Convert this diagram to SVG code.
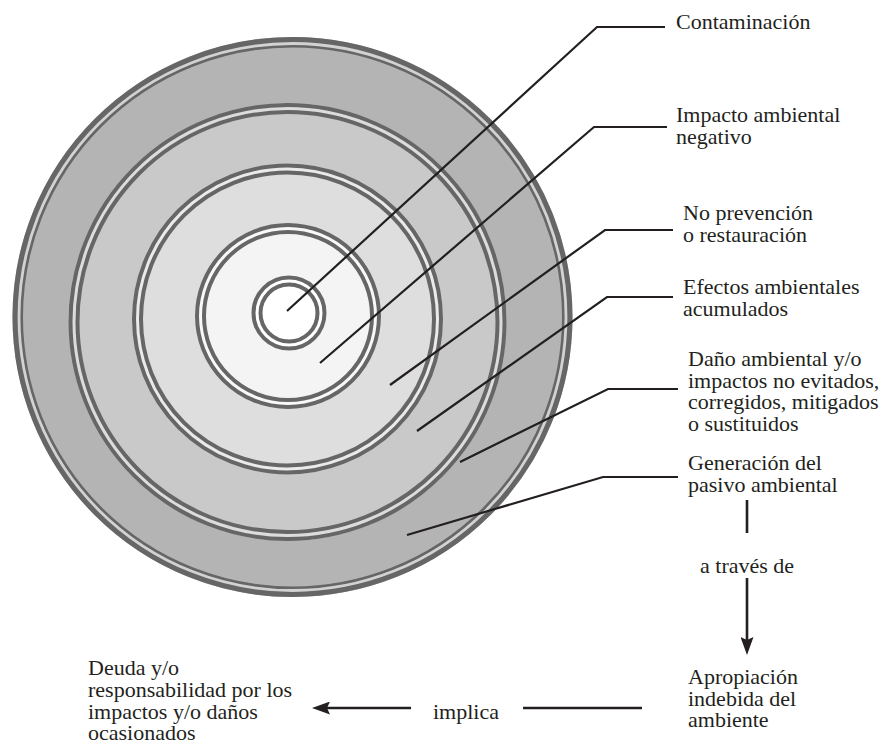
<svg xmlns="http://www.w3.org/2000/svg" width="882" height="744" viewBox="0 0 882 744">
<style>
.t{font-family:"Liberation Serif","Times New Roman",serif;font-size:22px;fill:#231f20}
.dk{fill:none;stroke:#666666}
.lt{fill:none}
.ld{fill:none;stroke:#231f20;stroke-width:2.2;stroke-linejoin:miter}
.ar{fill:none;stroke:#231f20;stroke-width:2.6}
</style>
<defs>
<marker id="ah" viewBox="0 0 18 13" refX="8" refY="6.5" markerWidth="18" markerHeight="13" markerUnits="userSpaceOnUse" orient="auto">
<path d="M0,0 L18,6.5 L0,13 L3,6.5 z" fill="#231f20"/>
</marker>
</defs>
<g id="rings">
<circle cx="292.5" cy="317" r="280" fill="#b4b4b4"/>
<circle cx="287.5" cy="322" r="219" fill="#c9c9c9"/>
<circle cx="287.5" cy="319" r="155.5" fill="#dedede"/>
<circle cx="288" cy="316" r="93" fill="#f4f4f4"/>
<circle cx="289" cy="313" r="37.5" fill="#ffffff"/>
<circle class="dk" cx="292.5" cy="317" r="274.75" stroke-width="10.5"/>
<circle class="lt" cx="292.5" cy="317" r="273.5" stroke="#d2d2d2" stroke-width="2.8"/>
<circle class="dk" cx="287.5" cy="322" r="213.5" stroke-width="11"/>
<circle class="lt" cx="287.5" cy="322" r="213.5" stroke="#dcdcdc" stroke-width="3"/>
<circle class="dk" cx="287.5" cy="319" r="150" stroke-width="11"/>
<circle class="lt" cx="287.5" cy="319" r="150" stroke="#eaeaea" stroke-width="3"/>
<circle class="dk" cx="288" cy="316" r="87.5" stroke-width="11"/>
<circle class="lt" cx="288" cy="316" r="87.5" stroke="#f8f8f8" stroke-width="3"/>
<circle class="dk" cx="289" cy="313" r="32" stroke-width="11"/>
<circle class="lt" cx="289" cy="313" r="32" stroke="#ffffff" stroke-width="3"/>
</g>
<g id="connectors">
<polyline class="ld" points="287,311 597,27 665,27"/>
<polyline class="ld" points="320,363 594,127 667,127"/>
<polyline class="ld" points="390,385 605,230 673,230"/>
<polyline class="ld" points="417,431 607,297 673,297"/>
<polyline class="ld" points="460,462 608,389 678,389"/>
<polyline class="ld" points="407,535 603,477 678,477"/>
<line class="ar" x1="747" y1="500" x2="747" y2="533"/>
<line class="ar" x1="747" y1="578" x2="747" y2="645" marker-end="url(#ah)"/>
<line class="ar" x1="642" y1="708" x2="523" y2="708"/>
<line class="ar" x1="411" y1="708" x2="322" y2="708" marker-end="url(#ah)"/>
</g>
<g id="n-contaminacion"><text class="t" x="676" y="29">Contaminación</text></g>
<g id="n-impacto"><text class="t" x="676" y="122">Impacto ambiental</text><text class="t" x="676" y="143.5">negativo</text></g>
<g id="n-noprevencion"><text class="t" x="683" y="220">No prevención</text><text class="t" x="683" y="241.5">o restauración</text></g>
<g id="n-efectos"><text class="t" x="683" y="294">Efectos ambientales</text><text class="t" x="683" y="315.5">acumulados</text></g>
<g id="n-dano"><text class="t" x="688" y="366">Daño ambiental y/o</text><text class="t" x="688" y="387.5">impactos no evitados,</text><text class="t" x="688" y="409">corregidos, mitigados</text><text class="t" x="688" y="430.5">o sustituidos</text></g>
<g id="n-generacion"><text class="t" x="688" y="470">Generación del</text><text class="t" x="688" y="491.5">pasivo ambiental</text></g>
<g id="l-atraves"><text class="t" x="700" y="573">a través de</text></g>
<g id="n-apropiacion"><text class="t" x="688" y="684">Apropiación</text><text class="t" x="688" y="705.5">indebida del</text><text class="t" x="688" y="727">ambiente</text></g>
<g id="l-implica"><text class="t" x="433" y="719">implica</text></g>
<g id="n-deuda"><text class="t" x="88" y="675">Deuda y/o</text><text class="t" x="88" y="697">responsabilidad por los</text><text class="t" x="88" y="718.5">impactos y/o daños</text><text class="t" x="88" y="740">ocasionados</text></g>
</svg>
